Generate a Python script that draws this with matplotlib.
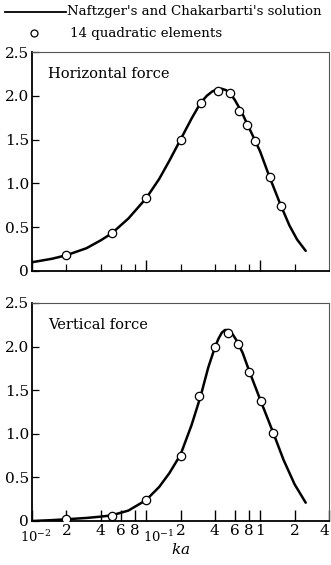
import matplotlib
matplotlib.use("Agg")
import matplotlib.pyplot as plt
from matplotlib.ticker import FixedLocator, NullFormatter

plt.rcParams['font.family'] = ['DejaVu Serif']
plt.rcParams['mathtext.fontset'] = 'dejavuserif'

# Horizontal force: analytic curve and element results
h_curve_x = [0.01, 0.015, 0.02, 0.03, 0.04, 0.05, 0.07, 0.1, 0.13, 0.16, 0.2, 0.25, 0.3, 0.34, 0.38,
             0.42, 0.46, 0.5, 0.55, 0.6, 0.65, 0.7, 0.8, 0.9, 1.0, 1.2, 1.5, 1.8, 2.1, 2.5]
h_curve_y = [0.10, 0.14, 0.18, 0.26, 0.35, 0.43, 0.60, 0.83, 1.05, 1.26, 1.50, 1.74, 1.92, 2.00, 2.05,
             2.075, 2.08, 2.065, 2.02, 1.95, 1.87, 1.79, 1.63, 1.49, 1.36, 1.08, 0.76, 0.52, 0.36, 0.23]
h_pts_x = [0.02, 0.05, 0.1, 0.2, 0.3, 0.43, 0.54, 0.65, 0.77, 0.9, 1.22, 1.53]
h_pts_y = [0.18, 0.43, 0.83, 1.50, 1.92, 2.05, 2.03, 1.83, 1.67, 1.48, 1.07, 0.74]

# Vertical force
v_curve_x = [0.01, 0.015, 0.02, 0.03, 0.04, 0.05, 0.07, 0.1, 0.13, 0.16, 0.2, 0.25, 0.3, 0.35, 0.4,
             0.43, 0.46, 0.49, 0.52, 0.55, 0.58, 0.62, 0.7, 0.8, 1.0, 1.3, 1.6, 2.0, 2.5]
v_curve_y = [0.00, 0.01, 0.02, 0.035, 0.05, 0.065, 0.12, 0.24, 0.39, 0.55, 0.76, 1.10, 1.43, 1.76, 1.99,
             2.09, 2.16, 2.19, 2.19, 2.17, 2.13, 2.07, 1.93, 1.72, 1.39, 1.01, 0.70, 0.42, 0.21]
v_pts_x = [0.02, 0.05, 0.1, 0.2, 0.29, 0.4, 0.52, 0.64, 0.8, 1.02, 1.3]
v_pts_y = [0.02, 0.06, 0.24, 0.74, 1.43, 1.99, 2.16, 2.03, 1.71, 1.38, 1.01]

panel_titles = ["Horizontal force", "Vertical force"]
y_ticks = [0, 0.5, 1.0, 1.5, 2.0, 2.5]
y_ticklabels = ["0", "0.5", "1.0", "1.5", "2.0", "2.5"]
x_ticks = [0.01, 0.02, 0.04, 0.06, 0.08, 0.1, 0.2, 0.4, 0.6, 0.8, 1, 2, 4]
x_ticklabels = ["", "2", "4", "6", "8", "", "2", "4", "6", "8", "1", "2", "4"]
decade_ticks = [0.01, 0.1]
decade_labels = ["$10^{-2}$", "$10^{-1}$"]
legend_labels = ["Naftzger's and Chakarbarti's solution", "14 quadratic elements"]

W, H = 331, 565
fig = plt.figure(figsize=(W / 100, H / 100), dpi=100)

axes_px = [(32, 52, 329, 271), (32, 303, 329, 521)]
data = [(h_curve_x, h_curve_y, h_pts_x, h_pts_y), (v_curve_x, v_curve_y, v_pts_x, v_pts_y)]

for i, ((x0, y0, x1, y1), (cx, cy, px, py)) in enumerate(zip(axes_px, data)):
    ax = fig.add_axes([x0 / W, 1 - y1 / H, (x1 - x0) / W, (y1 - y0) / H])
    ax.set_xscale('log')
    ax.plot(cx, cy, color='black', lw=1.8, solid_capstyle='round', solid_joinstyle='round', zorder=2)
    ax.plot(px, py, 'o', ms=6, mfc='white', mec='black', mew=0.9, zorder=3)
    ax.set_xlim(0.01, 4.0)
    ax.set_ylim(0, 2.5)
    ax.yaxis.set_major_locator(FixedLocator(y_ticks))
    ax.set_yticklabels(y_ticklabels, fontsize=11)
    ax.xaxis.set_major_locator(FixedLocator([0.01, 0.1, 1]))
    ax.xaxis.set_minor_locator(FixedLocator([0.02, 0.04, 0.06, 0.08, 0.2, 0.4, 0.6, 0.8, 2]))
    ax.xaxis.set_minor_formatter(NullFormatter())
    ax.tick_params(axis='y', direction='in', length=5, width=0.9, pad=2)
    ax.tick_params(axis='x', which='major', direction='in', length=8, width=1.0)
    ax.tick_params(axis='x', which='minor', direction='in', length=5, width=0.9)
    for s in ['left', 'bottom']:
        ax.spines[s].set_linewidth(1.3)
    for s in ['top', 'right']:
        ax.spines[s].set_linewidth(0.8)
        ax.spines[s].set_color('#555555')
    ax.text(0.055, 0.93, panel_titles[i], transform=ax.transAxes, fontsize=10.5,
            ha='left', va='top')
    if i == 0:
        ax.set_xticklabels([])
    else:
        ax.xaxis.set_major_locator(FixedLocator(x_ticks))
        ax.xaxis.set_minor_locator(FixedLocator([]))
        labels = ax.set_xticklabels(x_ticklabels, fontsize=11)
        labels[-1].set_horizontalalignment('right')
        ax.tick_params(axis='x', pad=2)
        for xv, lab, dx in zip(decade_ticks, decade_labels, [3, 9]):
            ax.annotate(lab, xy=(xv, 0), xycoords=('data', 'axes fraction'),
                        xytext=(dx, -6), textcoords='offset points',
                        ha='center', va='top', fontsize=9.5)
        ax.set_xlabel("$ka$", fontsize=11, labelpad=3)

# legend drawn above the top panel
lg = fig.add_axes([0, 0, 1, 1], facecolor='none')
lg.set_xlim(0, W)
lg.set_ylim(H, 0)
lg.axis('off')
lg.plot([5, 66], [12, 12], color='black', lw=1.3)
lg.text(67, 12, legend_labels[0], fontsize=9.6, ha='left', va='center')
lg.plot([34], [33], 'o', ms=5, mfc='white', mec='black', mew=0.9)
lg.text(70, 33, legend_labels[1], fontsize=9.6, ha='left', va='center')

fig.savefig("out.png", dpi=100)
